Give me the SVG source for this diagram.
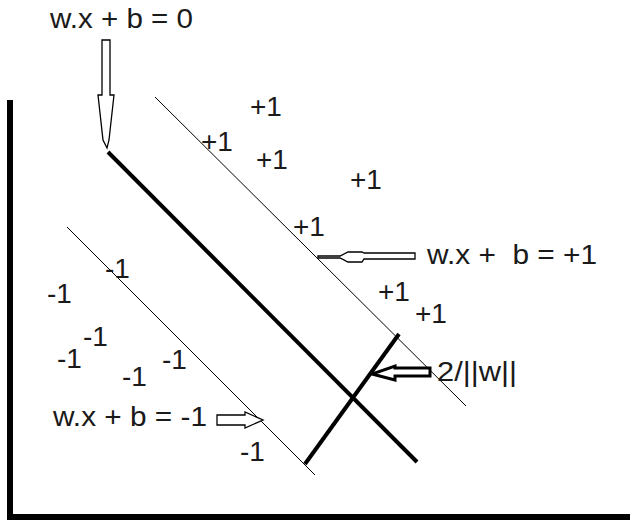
<svg xmlns="http://www.w3.org/2000/svg" width="630" height="529" viewBox="0 0 630 529">
<style>
text{font-family:"Liberation Sans",Arial,sans-serif;font-size:28px;fill:#1a1a1a}
.thin{stroke:#000;stroke-width:1;fill:none}
.thick{stroke:#000;stroke-width:4;fill:none}
.axis{stroke:#000;stroke-width:6;fill:none}
.arr{fill:#fff;stroke:#000;stroke-width:1.3}
.arrb{fill:#fff;stroke:#000;stroke-width:3}
</style>
<rect width="630" height="529" fill="#fff"/>
<g id="axes">
<polyline class="axis" points="10,100 10,517 630,517"/>
</g>
<g id="lines">
<line id="hyperplane" class="thick" x1="108" y1="152" x2="417" y2="462"/>
<line id="plus-margin" class="thin" x1="155" y1="97" x2="466" y2="406"/>
<line id="minus-margin" class="thin" x1="67" y1="227" x2="315" y2="475"/>
<line id="margin-width" class="thick" x1="399" y1="334" x2="305" y2="464"/>
</g>
<g id="connectors">
<polygon class="arr" points="102,40 110,40 110,95 114,95 109,140 107,148 103,140 98,95 102,95"/>
<polygon class="arr" points="415,253 415,259 364,259 362,262 348,262 340,258 318,258 318,256 340,256 348,252 362,252 364,253"/>
<polygon class="arr" points="217,415 245,415 245,412 263,420 245,428 245,425 217,425"/>
<polygon class="arrb" points="430,368 430,376 395,376 395,380 372,374 395,366 395,368"/>
</g>
<g id="labels">
<text x="50" y="28" textLength="143" lengthAdjust="spacingAndGlyphs">w.x + b = 0</text>
<text x="427" y="264" textLength="170" lengthAdjust="spacingAndGlyphs" xml:space="preserve">w.x +  b = +1</text>
<text x="437" y="381" textLength="80" lengthAdjust="spacingAndGlyphs">2/||w||</text>
<text x="53" y="426" textLength="154" lengthAdjust="spacingAndGlyphs">w.x + b = -1</text>
</g>
<g id="plus-points">
<text x="250" y="116">+1</text>
<text x="201" y="151">+1</text>
<text x="256" y="169">+1</text>
<text x="350" y="189">+1</text>
<text x="293" y="236">+1</text>
<text x="378" y="301">+1</text>
<text x="415" y="323">+1</text>
</g>
<g id="minus-points">
<text x="105" y="278">-1</text>
<text x="47" y="303">-1</text>
<text x="83" y="346">-1</text>
<text x="57" y="368">-1</text>
<text x="162" y="369">-1</text>
<text x="122" y="386">-1</text>
<text x="240" y="461">-1</text>
</g>
</svg>
